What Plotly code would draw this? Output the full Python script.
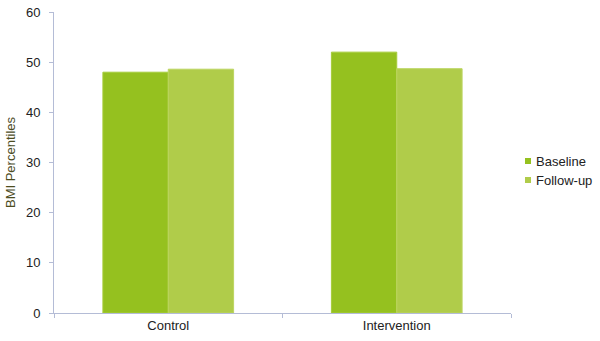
import plotly.graph_objects as go

categories = ["Control", "Intervention"]
baseline = [48.0, 52.0]
follow_up = [48.6, 48.7]
series_names = ["Baseline", "Follow-up"]
y_ticks = [0, 10, 20, 30, 40, 50, 60]

colors = ["#95c11f", "#b0cc4a"]
edges = ["#a6cc3a", "#bcd560"]

W, H = 600, 341
L, R, T, B = 54, 89, 12, 28

fig = go.Figure()
for name, vals, c, e in zip(series_names, [baseline, follow_up], colors, edges):
    fig.add_trace(go.Bar(x=categories, y=vals, name=name, showlegend=False,
                         marker=dict(color=c, line=dict(color=e, width=1))))

# legend drawn manually (small squares + labels), in pixel-based paper coords
def px_x(p):
    return (p - L) / (W - L - R)

def px_y(p):
    return (H - B - p) / (H - T - B)

legend_rows = [161, 180]
for name, c, yy in zip(series_names, colors, legend_rows):
    fig.add_shape(type="rect", xref="paper", yref="paper",
                  x0=px_x(525), x1=px_x(531), y0=px_y(yy + 3), y1=px_y(yy - 3),
                  fillcolor=c, line=dict(width=0))
    fig.add_annotation(xref="paper", yref="paper", x=px_x(534), y=px_y(yy),
                       xanchor="left", yanchor="middle", text=name, showarrow=False,
                       font=dict(size=13, color="#222222"))

axis_col = "#b4bcd6"
fig.update_layout(
    width=W, height=H,
    margin=dict(l=L, r=R, t=T, b=B, autoexpand=False),
    paper_bgcolor="white", plot_bgcolor="white",
    barmode="group", bargap=0.428, bargroupgap=0,
    showlegend=False,
    font=dict(family="Liberation Sans, Arial, sans-serif", size=13, color="#222222"),
    xaxis=dict(showline=True, linecolor=axis_col, linewidth=1, automargin=False,
               ticks="outside", tickson="boundaries", ticklen=4, tickcolor=axis_col,
               showgrid=False, zeroline=False, tickfont=dict(size=13, color="#222222")),
    yaxis=dict(range=[0, 60], tickvals=y_ticks, showline=True, linecolor=axis_col,
               linewidth=1, ticks="outside", ticklen=4, tickcolor=axis_col, automargin=False,
               showgrid=False, zeroline=False, ticklabelstandoff=6,
               tickfont=dict(size=13, color="#222222"),
               title=dict(text="BMI Percentiles", font=dict(size=13, color="#4d4d1f"), standoff=7)),
)

fig.write_html("out.html")
